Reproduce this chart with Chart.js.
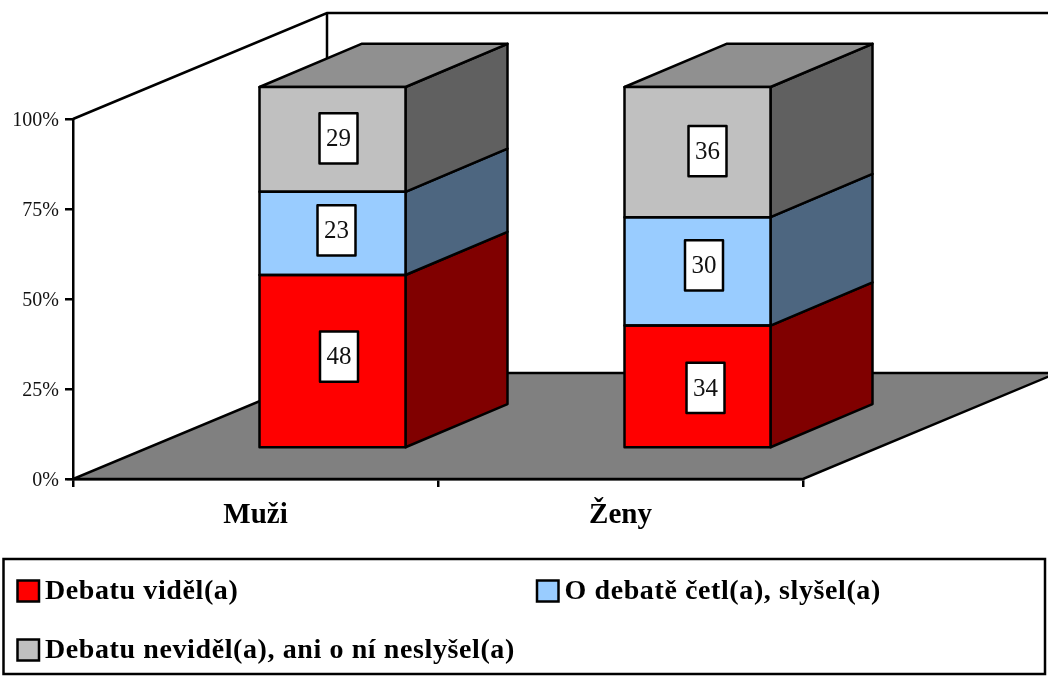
<!DOCTYPE html>
<html>
<head>
<meta charset="utf-8">
<style>html,body{margin:0;padding:0;background:#fff}canvas{display:block}</style>
<script src="https://cdn.jsdelivr.net/npm/chart.js@4"></script>
</head>
<body>
<canvas id="c" width="1048" height="679"></canvas>
<script>
const categories = ['Muži', 'Ženy'];
const seriesNames = ['Debatu viděl(a)', 'O debatě četl(a), slyšel(a)', 'Debatu neviděl(a), ani o ní neslyšel(a)'];
const saw = [48, 34];
const heard = [23, 30];
const neither = [29, 36];
const yTicks = [0, 25, 50, 75, 100];

const frontColors = ['#ff0000', '#99ccff', '#c0c0c0'];
const sideColors = ['#800000', '#4d6680', '#606060'];
const topColor = '#909090';
const floorColor = '#808080';
const SERIF = '"Liberation Serif","Times New Roman",serif';
const LINE = 2.5;

// manual label-box nudges (dataset, category), in px relative to segment centre
const nudgeX = [[6.5, 8], [4, 6.5], [6, 10]];
const nudgeY = [[-4.5, 1.5], [-3, -6], [-1, -1]];

const WALL = {dx: 254, dy: -106};
const BAR_OFFSET = {dx: 77, dy: -30.5};
const BAR_DEPTH = {dx: 102, dy: -43};
const BAR_SCALE = 361.5 / 360;

function poly(ctx, pts, fill) {
  ctx.beginPath();
  pts.forEach((p, i) => i ? ctx.lineTo(p[0], p[1]) : ctx.moveTo(p[0], p[1]));
  ctx.closePath();
  if (fill) { ctx.fillStyle = fill; ctx.fill(); }
  ctx.stroke();
}

const scene3d = {
  id: 'scene3d',
  beforeDraw(chart) {
    const {ctx, chartArea: a} = chart;
    ctx.save();
    ctx.strokeStyle = '#000';
    ctx.lineWidth = LINE;
    const bx = a.left + WALL.dx, tY = a.top + WALL.dy, bY = a.bottom + WALL.dy;
    ctx.beginPath();
    ctx.moveTo(a.left, a.top);
    ctx.lineTo(bx, tY);
    ctx.lineTo(chart.width + 2, tY);
    ctx.moveTo(bx, tY);
    ctx.lineTo(bx, bY);
    ctx.stroke();
    poly(ctx, [[a.left, a.bottom], [a.right, a.bottom], [a.right + WALL.dx, bY], [bx, bY]], floorColor);
    ctx.restore();
  },
  beforeDatasetsDraw(chart) {
    const {ctx, chartArea: a} = chart;
    ctx.save();
    ctx.translate(BAR_OFFSET.dx, BAR_OFFSET.dy + a.bottom);
    ctx.scale(1, BAR_SCALE);
    ctx.translate(0, -a.bottom);
    ctx.strokeStyle = '#000';
    ctx.lineWidth = LINE;
    ctx.lineJoin = 'round';
    const n = chart.data.datasets.length;
    chart.data.datasets.forEach((ds, d) => {
      chart.getDatasetMeta(d).data.forEach(el => {
        const r = el.x + el.width / 2, l = el.x - el.width / 2, t = el.y, b = el.base;
        const D = BAR_DEPTH;
        poly(ctx, [[r, t], [r + D.dx, t + D.dy], [r + D.dx, b + D.dy], [r, b]], sideColors[d]);
        if (d === n - 1) poly(ctx, [[l, t], [l + D.dx, t + D.dy], [r + D.dx, t + D.dy], [r, t]], topColor);
      });
    });
  },
  afterDatasetsDraw(chart) {
    const {ctx} = chart;
    chart.data.datasets.forEach((ds, d) => {
      chart.getDatasetMeta(d).data.forEach(el => {
        ctx.strokeRect(el.x - el.width / 2, el.y, el.width, el.base - el.y);
      });
    });
    chart.data.datasets.forEach((ds, d) => {
      chart.getDatasetMeta(d).data.forEach((el, i) => {
        const cx = el.x + nudgeX[d][i], cy = (el.y + el.base) / 2 + nudgeY[d][i];
        const w = 38, h = 50;
        ctx.fillStyle = '#fff';
        ctx.fillRect(cx - w / 2, cy - h / 2, w, h);
        ctx.strokeRect(cx - w / 2, cy - h / 2, w, h);
        ctx.fillStyle = '#111';
        ctx.font = '25px ' + SERIF;
        ctx.textAlign = 'center';
        ctx.textBaseline = 'middle';
        ctx.fillText(String(ds.data[i]), cx, cy + 1);
      });
    });
    ctx.restore();
  },
  afterDraw(chart) {
    const {ctx} = chart;
    ctx.save();
    ctx.strokeStyle = '#000';
    ctx.lineWidth = LINE;
    ctx.strokeRect(3.5, 559, 1041.5, 115);
    const slots = [[17.5, 580.5], [537, 580.5], [17.5, 639.5]];
    ctx.font = 'bold 28px ' + SERIF;
    ctx.letterSpacing = '0.6px';
    ctx.textAlign = 'left';
    ctx.textBaseline = 'alphabetic';
    chart.data.datasets.forEach((ds, d) => {
      const [x, y] = slots[d];
      ctx.fillStyle = ds.backgroundColor;
      ctx.fillRect(x, y, 21.5, 21);
      ctx.strokeRect(x, y, 21.5, 21);
      ctx.fillStyle = '#000';
      ctx.fillText(ds.label, x + 27.5, y + 18.5);
    });
    ctx.restore();
  }
};

new Chart(document.getElementById('c'), {
  type: 'bar',
  data: {
    labels: categories,
    datasets: [saw, heard, neither].map((data, i) => ({
      label: seriesNames[i],
      data,
      backgroundColor: frontColors[i],
      borderWidth: 0,
      barPercentage: 0.4,
      categoryPercentage: 1,
      clip: false
    }))
  },
  options: {
    responsive: false,
    animation: false,
    layout: {padding: {top: 119, right: 245, left: 0, bottom: 0}},
    plugins: {legend: {display: false}, title: {display: false}, tooltip: {enabled: false}},
    scales: {
      x: {
        stacked: true,
        afterFit(s) { s.height = 200; },
        border: {color: '#000', width: LINE},
        grid: {display: true, offset: true, drawOnChartArea: false, drawTicks: true, tickLength: 8, color: '#000', lineWidth: LINE},
        ticks: {color: '#000', padding: 11, maxRotation: 0, font: {family: SERIF, size: 29, weight: 'bold'}}
      },
      y: {
        stacked: true,
        min: 0,
        max: 100,
        afterFit(s) { s.width = 73; },
        afterBuildTicks(s) { s.ticks = yTicks.map(value => ({value})); },
        border: {color: '#000', width: LINE},
        grid: {display: true, drawOnChartArea: false, drawTicks: true, tickLength: 8, color: '#000', lineWidth: LINE},
        ticks: {color: '#111', padding: 6, labelOffset: 2, callback: v => v + '%', font: {family: SERIF, size: 20}}
      }
    }
  },
  plugins: [scene3d]
});
</script>
</body>
</html>
